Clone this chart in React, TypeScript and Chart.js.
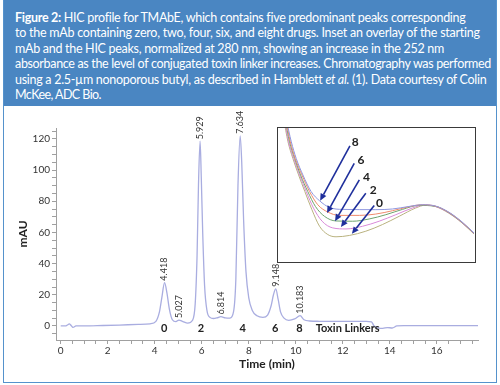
import React, { useEffect, useLayoutEffect, useRef } from "react";
import { Chart, registerables } from "chart.js";
Chart.register(...registerables);

// ---------- caption ----------
const captionBold = "Figure 2:";
const captionLines = [
  " HIC profile for TMAbE, which contains five predominant peaks corresponding",
  "to the mAb containing zero, two, four, six, and eight drugs. Inset an overlay of the starting",
  "mAb and the HIC peaks, normalized at 280 nm, showing an increase in the 252 nm",
  "absorbance as the level of conjugated toxin linker increases. Chromatography was performed",
  "using a 2.5-\u00b5m nonoporous butyl, as described in Hamblett ",
  "McKee, ADC Bio.",
];
const captionItalic = "et al.";
const captionTail = " (1). Data courtesy of Colin";

// ---------- main chromatogram ----------
const timeMin = [
  0, 0.2, 0.3, 0.36, 0.45, 0.52, 0.65, 1.0, 1.8, 2.5, 3.3, 3.8, 4.05, 4.2, 4.3, 4.418, 4.52, 4.62,
  4.75, 4.9, 5.027, 5.2, 5.4, 5.6, 5.72, 5.8, 5.86, 5.929, 5.98, 6.04, 6.12, 6.22, 6.35, 6.5, 6.65,
  6.814, 7.0, 7.2, 7.35, 7.45, 7.54, 7.634, 7.7, 7.78, 7.88, 8.0, 8.15, 8.35, 8.6, 8.8, 8.95, 9.05,
  9.148, 9.25, 9.35, 9.5, 9.7, 9.95, 10.183, 10.35, 10.6, 11.0, 12.0, 13.0, 13.22, 13.32, 13.5, 13.7,
  13.9, 14.1, 14.3, 14.6, 16.0, 17.75,
];
const absorbance = [
  0, 0, 0.8, 1.3, 0.2, -0.9, 0, 0, 0.3, 0.6, 1.0, 1.4, 3, 9, 18, 27.8, 21, 11,
  4, 2.8, 3.8, 2.8, 1.8, 3.5, 14, 45, 90, 118.5, 95, 60, 26, 10, 5.5, 4.8, 5.2,
  6.0, 5.2, 5.0, 9, 30, 90, 122, 105, 68, 35, 18, 10, 6.5, 5.5, 7, 13, 20,
  23.8, 17, 9, 5, 3.6, 4.5, 6.6, 4, 3.2, 3.0, 2.9, 2.9, 2.6, 0.2, -1.2, -1.6,
  -1, -1.3, 0, 0.2, 0.2, 0.2,
];
const peakTimes = [4.418, 5.027, 5.929, 6.814, 7.634, 9.148, 10.183];
const peakHeights = [27.8, 3.8, 118.5, 6.0, 122, 23.8, 6.6];
const linkerLabels = ["0", "2", "4", "6", "8"];
const linkerTimes = [4.4, 5.97, 7.74, 9.12, 10.15];
const linkerLevel = -1.3;
const toxinLabel = "Toxin Linkers";
const toxinLabelTime = 10.85;
const xTickValues = Array.from({ length: 36 }, (_, i) => i * 0.5);
const xLabelEvery = 2;
const yTickValues = [-5, 0, 5, 10, 15, 20, 25, 30, 35, 40, 45, 50, 55, 60, 65, 70, 75, 80, 85, 90, 95, 100, 105, 110, 115, 120, 125];
const yLabelEvery = 20;
const xTitle = "Time (min)";
const yTitle = "mAU";

// ---------- inset ----------
const insetNames = ["8", "6", "4", "2", "0"];
const insetColors = ["#8f97e0", "#ef8a6c", "#6ea36e", "#d98ad9", "#b9b27f"];
const inset8X = [4.2, 6.8, 9.3, 12.7, 16.9, 21.2, 26.2, 33.0, 49.9, 58.4, 66.8, 73.6, 80.4, 87.1, 93.9, 100];
const inset8Y = [106.5, 89.6, 77.1, 64.7, 52.2, 45.3, 40.3, 38.8, 38.6, 39.1, 41.0, 42.3, 41.3, 36.8, 29.4, 21.1];
const inset6X = [3.9, 6.3, 8.8, 12.2, 16.1, 20.3, 25.4, 31.3, 41.5, 49.9, 58.4, 66.8, 73.6, 80.4, 87.1, 93.9, 100];
const inset6Y = [107, 89.6, 77.1, 64.7, 52.2, 42.3, 36.8, 34.3, 34.3, 35.3, 37.8, 40.8, 42.3, 41.2, 36.6, 29.2, 20.9];
const inset4X = [3.6, 5.9, 8.5, 11.5, 15.2, 19.1, 23.7, 29.6, 38.1, 46.5, 55.0, 63.5, 71.9, 80.4, 87.1, 93.9, 100];
const inset4Y = [107, 89.6, 77.1, 64.7, 52.2, 41.0, 33.6, 30.1, 29.9, 31.6, 34.8, 38.8, 41.8, 41.1, 36.4, 29.0, 20.7];
const inset2X = [3.2, 5.4, 8.0, 11.0, 14.4, 18.1, 22.5, 27.9, 34.7, 43.1, 51.6, 60.1, 68.5, 74.5, 80.4, 87.1, 93.9, 100];
const inset2Y = [107, 89.6, 77.1, 64.7, 52.2, 39.8, 29.9, 24.9, 24.1, 26.1, 29.9, 34.8, 39.8, 42.0, 41.0, 36.2, 28.8, 20.5];
const inset0X = [2.9, 5.1, 7.6, 10.5, 13.7, 17.3, 21.2, 25.4, 29.6, 36.4, 44.8, 53.3, 61.8, 70.2, 75.3, 80.4, 87.1, 93.9, 100];
const inset0Y = [107, 89.6, 77.1, 64.7, 52.2, 38.6, 26.1, 19.9, 18.2, 19.2, 22.4, 27.4, 33.6, 39.8, 42.0, 40.9, 36.0, 28.6, 20.3];
const insetXs = [inset8X, inset6X, inset4X, inset2X, inset0X];
const insetYs = [inset8Y, inset6Y, inset4Y, inset2Y, inset0Y];
const arrowStartX = [36.7, 38.9, 41.5, 44.8, 49.1];
const arrowStartY = [86.6, 73.4, 61.0, 51.0, 41.8];
const arrowEndX = [21.5, 25.0, 29.1, 32.1, 37.7];
const arrowEndY = [45.3, 36.1, 29.9, 25.6, 20.4];
const arrowLabelX = [39.4, 42.3, 45.2, 48.6, 51.8];
const arrowLabelY = [89.1, 75.9, 63.4, 53.5, 43.5];

const FONT = "Lato, 'Open Sans', sans-serif";
// caption line widths (layout), in px
const captionLineWidths = [450, 465, 429, 476, 471, 86];

function MainChart() {
  const ref = useRef<HTMLCanvasElement>(null);
  useEffect(() => {
    if (!ref.current) return;
    const annotate = {
      id: "annotate",
      afterDatasetsDraw(chart: any) {
        const { ctx } = chart;
        const xs = chart.scales.x;
        const ys = chart.scales.y;
        ctx.save();
        ctx.fillStyle = "#333";
        ctx.font = `9px ${FONT}`;
        peakTimes.forEach((t, i) => {
          const px = xs.getPixelForValue(t);
          const py = ys.getPixelForValue(peakHeights[i]);
          ctx.save();
          ctx.translate(px, py - 2);
          ctx.rotate(-Math.PI / 2);
          ctx.textAlign = "left";
          ctx.textBaseline = "middle";
          ctx.fillText(t.toFixed(3), 0, 0);
          ctx.restore();
        });
        ctx.fillStyle = "#222";
        ctx.font = `bold 11px ${FONT}`;
        ctx.textBaseline = "middle";
        ctx.textAlign = "center";
        linkerLabels.forEach((l, i) => {
          ctx.fillText(l, xs.getPixelForValue(linkerTimes[i]), ys.getPixelForValue(linkerLevel));
        });
        ctx.textAlign = "left";
        ctx.fillText(toxinLabel, xs.getPixelForValue(toxinLabelTime), ys.getPixelForValue(linkerLevel));
        ctx.restore();
      },
    };
    const chart = new Chart(ref.current, {
      type: "line",
      data: {
        datasets: [
          {
            data: timeMin.map((t, i) => ({ x: t, y: absorbance[i] })),
            borderColor: "#a9ade0",
            borderWidth: 1.3,
            pointRadius: 0,
            cubicInterpolationMode: "monotone",
            fill: false,
          },
        ],
      },
      options: {
        responsive: false,
        animation: false,
        layout: { padding: { left: 0, top: 22, right: 22, bottom: 0 } },
        plugins: { legend: { display: false }, tooltip: { enabled: false } },
        scales: {
          x: {
            type: "linear",
            min: -0.2,
            max: 17.75,
            afterBuildTicks: (s: any) => {
              s.ticks = xTickValues.map((v) => ({ value: v }));
            },
            afterFit: (s: any) => {
              s.height = 45;
            },
            ticks: {
              autoSkip: false,
              maxRotation: 0,
              padding: 1,
              color: "#333",
              font: { family: FONT, size: 10 },
              callback: (v: any) => (Number(v) % xLabelEvery === 0 ? String(v) : ""),
            },
            grid: { drawOnChartArea: false, tickLength: 4, color: "#a0a0a0" },
            border: { color: "#a0a0a0", width: 1 },
            title: {
              display: true,
              text: xTitle,
              color: "#222",
              font: { family: FONT, size: 12, weight: "bold" },
              padding: { top: 0, bottom: 14 },
            },
          },
          y: {
            type: "linear",
            min: -9,
            max: 127,
            afterBuildTicks: (s: any) => {
              s.ticks = yTickValues.map((v) => ({ value: v }));
            },
            afterFit: (s: any) => {
              s.width = 56;
            },
            ticks: {
              autoSkip: false,
              padding: 2,
              color: "#333",
              font: { family: FONT, size: 10 },
              callback: (v: any) => (Number(v) >= 0 && Number(v) % yLabelEvery === 0 ? String(v) : ""),
            },
            grid: { drawOnChartArea: false, tickLength: 4, color: "#a0a0a0" },
            border: { color: "#a0a0a0", width: 1 },
            title: {
              display: true,
              text: yTitle,
              color: "#222",
              font: { family: FONT, size: 12, weight: "bold" },
              padding: { top: 16, bottom: 0 },
            },
          },
        },
      } as any,
      plugins: [annotate],
    });
    return () => chart.destroy();
  }, []);
  return <canvas ref={ref} width={500} height={279} style={{ display: "block" }} />;
}

function InsetChart() {
  const ref = useRef<HTMLCanvasElement>(null);
  useEffect(() => {
    if (!ref.current) return;
    const arrows = {
      id: "arrows",
      afterDatasetsDraw(chart: any) {
        const { ctx } = chart;
        const xs = chart.scales.x;
        const ys = chart.scales.y;
        ctx.save();
        insetNames.forEach((n, i) => {
          const x1 = xs.getPixelForValue(arrowStartX[i]);
          const y1 = ys.getPixelForValue(arrowStartY[i]);
          const x2 = xs.getPixelForValue(arrowEndX[i]);
          const y2 = ys.getPixelForValue(arrowEndY[i]);
          const ang = Math.atan2(y2 - y1, x2 - x1);
          const head = 7;
          const bx = x2 - head * Math.cos(ang);
          const by = y2 - head * Math.sin(ang);
          ctx.strokeStyle = "#1f2f9c";
          ctx.fillStyle = "#1f2f9c";
          ctx.lineWidth = 1.6;
          ctx.beginPath();
          ctx.moveTo(x1, y1);
          ctx.lineTo(bx, by);
          ctx.stroke();
          ctx.beginPath();
          ctx.moveTo(x2, y2);
          ctx.lineTo(bx + 3.2 * Math.sin(ang), by - 3.2 * Math.cos(ang));
          ctx.lineTo(bx - 3.2 * Math.sin(ang), by + 3.2 * Math.cos(ang));
          ctx.closePath();
          ctx.fill();
          ctx.fillStyle = "#222";
          ctx.font = `bold 12px ${FONT}`;
          ctx.textAlign = "center";
          ctx.textBaseline = "middle";
          ctx.fillText(n, xs.getPixelForValue(arrowLabelX[i]), ys.getPixelForValue(arrowLabelY[i]));
        });
        ctx.restore();
      },
    };
    const chart = new Chart(ref.current, {
      type: "line",
      data: {
        datasets: insetNames.map((n, i) => ({
          label: n,
          data: insetXs[i].map((x, j) => ({ x, y: insetYs[i][j] })),
          borderColor: insetColors[i],
          borderWidth: 1,
          pointRadius: 0,
          cubicInterpolationMode: "monotone",
          fill: false,
        })),
      },
      options: {
        responsive: false,
        animation: false,
        layout: { padding: 0 },
        plugins: { legend: { display: false }, tooltip: { enabled: false } },
        scales: {
          x: { type: "linear", min: 0, max: 100, display: false },
          y: { type: "linear", min: 0, max: 100, display: false },
        },
      } as any,
      plugins: [arrows],
    });
    return () => chart.destroy();
  }, []);
  return <canvas ref={ref} width={196} height={133} style={{ display: "block" }} />;
}

function Caption() {
  const refs = useRef<(HTMLSpanElement | null)[]>([]);
  useLayoutEffect(() => {
    refs.current.forEach((el, i) => {
      if (!el) return;
      el.style.letterSpacing = "0px";
      const w = el.getBoundingClientRect().width;
      const n = (el.textContent || "").length;
      if (n > 1) el.style.letterSpacing = `${(captionLineWidths[i] - w) / n}px`;
    });
  }, []);
  const lineStyle: React.CSSProperties = { whiteSpace: "nowrap", height: 15.4 };
  const setRef = (i: number) => (el: HTMLSpanElement | null) => {
    refs.current[i] = el;
  };
  return (
    <>
      <div style={lineStyle}>
        <span ref={setRef(0)}>
          <b>{captionBold}</b>
          {captionLines[0]}
        </span>
      </div>
      <div style={lineStyle}>
        <span ref={setRef(1)}>{captionLines[1]}</span>
      </div>
      <div style={lineStyle}>
        <span ref={setRef(2)}>{captionLines[2]}</span>
      </div>
      <div style={lineStyle}>
        <span ref={setRef(3)}>{captionLines[3]}</span>
      </div>
      <div style={lineStyle}>
        <span ref={setRef(4)}>
          {captionLines[4]}
          <i>{captionItalic}</i>
          {captionTail}
        </span>
      </div>
      <div style={lineStyle}>
        <span ref={setRef(5)}>{captionLines[5]}</span>
      </div>
    </>
  );
}

export default function App() {
  return (
    <div style={{ position: "absolute", left: 0, top: 0, width: 500, height: 385, background: "#fff", overflow: "hidden" }}>
      <div
        style={{
          position: "absolute",
          left: 3,
          top: 0,
          width: 494,
          height: 383,
          border: "1.5px solid #5592cc",
          boxSizing: "border-box",
        }}
      />
      <div
        style={{
          position: "absolute",
          left: 4,
          top: 0,
          width: 492,
          height: 106,
          background: "#4a86c2",
          color: "#fff",
          fontFamily: FONT,
          fontSize: 12.5,
          lineHeight: "15.4px",
          padding: "10px 0 0 11px",
          boxSizing: "border-box",
        }}
      >
        <Caption />
      </div>
      <div style={{ position: "absolute", left: 0, top: 106 }}>
        <MainChart />
      </div>
      <div
        style={{
          position: "absolute",
          left: 277,
          top: 127,
          width: 199,
          height: 136,
          border: "1.5px solid #3a3a3a",
          boxSizing: "border-box",
          background: "#fff",
        }}
      >
        <InsetChart />
      </div>
    </div>
  );
}
